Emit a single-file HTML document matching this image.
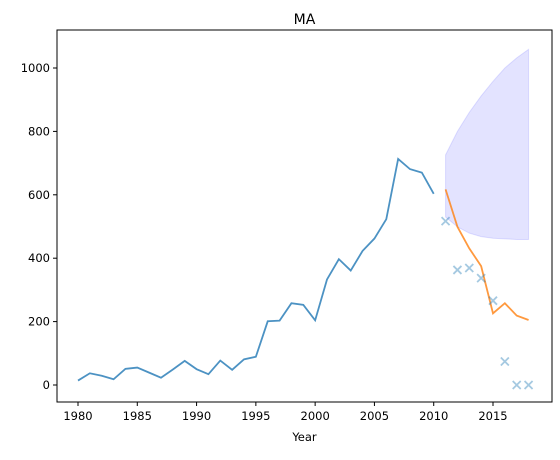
<!DOCTYPE html>
<html><head><meta charset="utf-8"><style>
body{margin:0;background:#fff}
text{font-family:"DejaVu Sans","Liberation Sans",sans-serif;fill:#000}
</style></head><body>
<svg width="560" height="455" id="svg" xmlns="http://www.w3.org/2000/svg"></svg>
<script>
const histYears=[1980,1981,1982,1983,1984,1985,1986,1987,1988,1989,1990,1991,1992,1993,1994,1995,1996,1997,1998,1999,2000,2001,2002,2003,2004,2005,2006,2007,2008,2009,2010];
const histValues=[14,37,29,18,51,55,39,23,49,76,50,34,77,48,81,89,201,203,258,253,204,333,397,361,423,462,523,713,681,670,603];
const fcYears=[2011,2012,2013,2014,2015,2016,2017,2018];
const fcValues=[617,499,431,375,226,258,219,205];
const actualValues=[517,363,369,337,266,74,0,0];
const upperValues=[726,800,860,912,958,1000,1032,1059];
const lowerValues=[530,499,479,468,463,461,459,459];
const xTicks=[1980,1985,1990,1995,2000,2005,2010,2015];
const yTicks=[0,200,400,600,800,1000];

const L=57,R=552,T=30,B=402;
const x=v=>78+(v-1980)*(415/35);
const y=v=>385-v*0.317;
const svg=document.getElementById('svg');
const NS='http://www.w3.org/2000/svg';
function mk(tag,attrs,parent){const e=document.createElementNS(NS,tag);for(const k in attrs)e.setAttribute(k,attrs[k]);(parent||svg).appendChild(e);return e;}

let d='M'+fcYears.map((yr,i)=>x(yr)+','+y(upperValues[i])).join('L');
for(let i=fcYears.length-1;i>=0;i--)d+='L'+x(fcYears[i])+','+y(lowerValues[i]);
const band=mk('path',{d:d+'Z',fill:'#0000ff','fill-opacity':0.11,stroke:'#0000ff','stroke-opacity':0.11});



const hl=mk('polyline',{points:histYears.map((yr,i)=>x(yr)+','+y(histValues[i])).join(' '),fill:'none',stroke:'#1f77b4','stroke-opacity':0.8,'stroke-width':1.8});



const fl=mk('polyline',{points:fcYears.map((yr,i)=>x(yr)+','+y(fcValues[i])).join(' '),fill:'none',stroke:'#ff7f0e','stroke-opacity':0.8,'stroke-width':1.8});



fcYears.forEach((yr,i)=>{
  const cx=x(yr),cy=y(actualValues[i]),s=4;
  const m=mk('path',{d:`M${cx-s},${cy-s}L${cx+s},${cy+s}M${cx-s},${cy+s}L${cx+s},${cy-s}`,stroke:'#1f77b4','stroke-opacity':0.4,'stroke-width':1.8});
  
  
});

const fr=mk('rect',{x:L,y:T,width:R-L,height:B-T,fill:'none',stroke:'#000','stroke-width':1});



xTicks.forEach(t=>{
  mk('line',{x1:x(t),x2:x(t),y1:B,y2:B+4,stroke:'#000'});
  const tx=mk('text',{x:x(t),y:B+18,'text-anchor':'middle','font-size':11.5});
  tx.textContent=t;
  
  
});
yTicks.forEach(t=>{
  mk('line',{x1:L-4,x2:L,y1:y(t),y2:y(t),stroke:'#000'});
  const tx=mk('text',{x:L-7,y:y(t)+4,'text-anchor':'end','font-size':11.5});
  tx.textContent=t;
  
  
});
const xt=mk('text',{x:(L+R)/2,y:441,'text-anchor':'middle','font-size':11.5});
xt.textContent='Year';


const ti=mk('text',{x:(L+R)/2,y:24,'text-anchor':'middle','font-size':14});
ti.textContent='MA';


</script>
</body></html>
